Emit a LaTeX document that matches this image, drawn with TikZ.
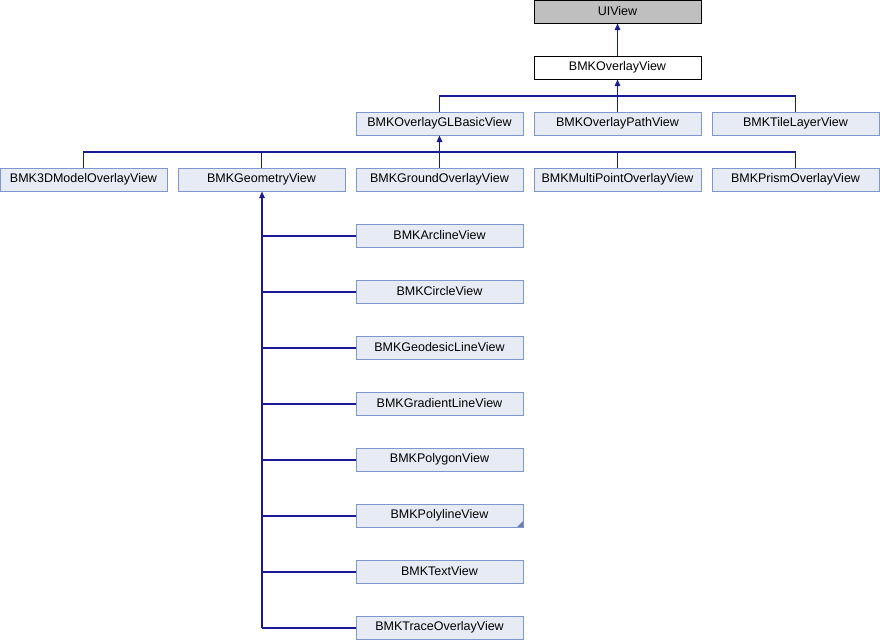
\documentclass[tikz,border=0pt]{standalone}
\usepackage{fontspec}
\setmainfont{Liberation Sans}
\usetikzlibrary{arrows.meta}
\definecolor{boxfill}{HTML}{E7EBF5}
\definecolor{boxline}{HTML}{7F97CC}
\definecolor{edgecol}{HTML}{1A1A96}
\definecolor{greyfill}{HTML}{BFBFBF}
\tikzset{
  cls/.style={draw=boxline, fill=boxfill, line width=1pt, minimum width=167pt, minimum height=23pt, inner sep=0pt, font=\fontsize{12.5}{14}\selectfont},
  rootcls/.style={cls, draw=black, fill=greyfill},
  curcls/.style={cls, draw=black, fill=white},
  edge/.style={draw=edgecol, line width=1.3pt},
  inh/.style={edge, -{Triangle[length=6.5pt,width=5.5pt]}},
}
\begin{document}
\begin{tikzpicture}[x=1pt,y=-1pt]
\useasboundingbox (0,0) rectangle (880,640);
\fill[white] (0,0) rectangle (880,640);
% top
\node[rootcls] (ui) at (617.5,11.5) {UIView};
\node[curcls] (ov) at (617.5,67.5) {BMKOverlayView};
% row 3
\node[cls] (gl) at (439.5,123.5) {BMKOverlayGLBasicView};
\node[cls] (path) at (617.5,123.5) {BMKOverlayPathView};
\node[cls] (tile) at (795.5,123.5) {BMKTileLayerView};
% row 4
\node[cls] (m3d) at (83.5,179.5) {BMK3DModelOverlayView};
\node[cls] (geo) at (261.5,179.5) {BMKGeometryView};
\node[cls] (ground) at (439.5,179.5) {BMKGroundOverlayView};
\node[cls] (multi) at (617.5,179.5) {BMKMultiPointOverlayView};
\node[cls] (prism) at (795.5,179.5) {BMKPrismOverlayView};
% geometry subclasses
\node[cls] (arc) at (439.5,235.5) {BMKArclineView};
\node[cls] (circ) at (439.5,291.5) {BMKCircleView};
\node[cls] (geod) at (439.5,347.5) {BMKGeodesicLineView};
\node[cls] (grad) at (439.5,403.5) {BMKGradientLineView};
\node[cls] (poly) at (439.5,459.5) {BMKPolygonView};
\node[cls] (pline) at (439.5,515.5) {BMKPolylineView};
\node[cls] (text) at (439.5,571.5) {BMKTextView};
\node[cls] (trace) at (439.5,627.5) {BMKTraceOverlayView};
% truncated marker
\fill[boxline!85!black] ([xshift=-0.5pt,yshift=0.5pt]pline.south east) -- ++(-6,0) -- ++(6,-6) -- cycle;
% edges
\draw[inh] (ov.north) -- (ui.south);
\coordinate (j1) at (617.5,96);
\draw[inh] (j1) -- (ov.south);
\draw[edge] (gl.north) |- (j1) -| (tile.north);
\draw[edge] (path.north) -- (j1);
\coordinate (j2) at (439.5,152);
\draw[inh] (j2) -- (gl.south);
\draw[edge] (m3d.north) |- (j2) -| (prism.north);
\draw[edge] (geo.north) -- (geo.north |- j2);
\draw[edge] (ground.north) -- (j2);
\draw[edge] (multi.north) -- (multi.north |- j2);
% geometry tree
\coordinate (gtop) at ([xshift=0.5pt]geo.south);
\coordinate (gbot) at ([shift={(0.5,0.5)}]geo.south |- trace.west);
\draw[inh] (gbot) -- (gtop);
\foreach \n in {arc,circ,geod,grad,poly,pline,text,trace}{
  \draw[edge] ([shift={(0.5,0.5)}]geo.south |- \n.west) -- ([yshift=-0.5pt]\n.west);
}
\end{tikzpicture}
\end{document}
